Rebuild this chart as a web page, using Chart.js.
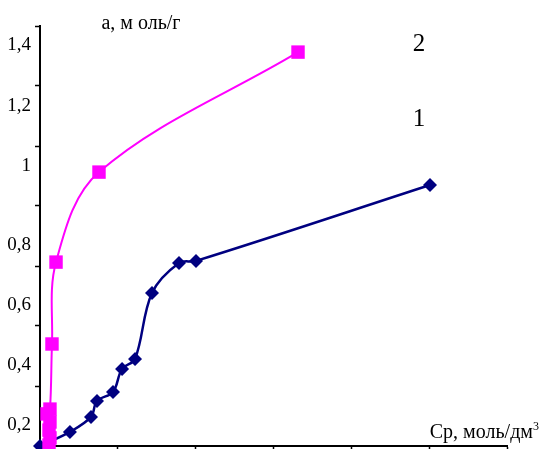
<!DOCTYPE html>
<html><head><meta charset="utf-8">
<script src="https://cdn.jsdelivr.net/npm/chart.js@4/dist/chart.umd.min.js"></script>
<style>html,body{margin:0;padding:0;background:#fff;}#wrap{width:539px;height:449px;position:relative}</style>
</head><body><div id="wrap"><canvas id="c" width="539" height="449"></canvas></div>
<script>
// ---- data ----
const series1X = [0, 0.385, 0.655, 0.732, 0.938, 1.054, 1.221, 1.439, 1.786, 2.004, 5.011];
const series1Y = [0.1, 0.147, 0.197, 0.25, 0.28, 0.357, 0.39, 0.61, 0.71, 0.717, 0.97];
const series2X = [0.116, 0.128, 0.116, 0.128, 0.09, 0.128, 0.154, 0.206, 0.758, 3.315];
const series2Y = [0.103, 0.127, 0.153, 0.18, 0.207, 0.223, 0.44, 0.713, 1.013, 1.413];
const seriesNames = ['1', '2'];
const xTickValues = [0, 1, 2, 3, 4, 5, 6];
const yTickMarkValues = [0.1, 0.3, 0.5, 0.7, 0.9, 1.1, 1.3, 1.5];
const yTickLabelValues = [0.17, 0.37, 0.57, 0.77, 1.033, 1.233, 1.437];
const yTickLabels = ['0,2', '0,4', '0,6', '0,8', '1', '1,2', '1,4'];
const yTitle = 'а, м оль/г';
const xTitle = 'Ср, моль/дм';
const xTitleSup = '3';
const seriesLabelPos = [[4.87, 1.187], [4.87, 1.44]];

const FONT = '"Liberation Serif", "Times New Roman", serif';

const toPts = (xs, ys) => xs.map((x, i) => ({x: x, y: ys[i]}));

const textPlugin = {
  id: 'texts',
  afterDraw(chart) {
    const ctx = chart.ctx, ca = chart.chartArea;
    const xs = chart.scales.x, ys = chart.scales.y;
    ctx.save();
    ctx.fillStyle = '#000';
    ctx.font = '20px ' + FONT;
    ctx.textAlign = 'center';
    ctx.textBaseline = 'middle';
    ctx.fillText(yTitle, ca.left + 101, ca.top - 2);
    // x title
    ctx.textAlign = 'right';
    ctx.textBaseline = 'alphabetic';
    ctx.fillText(xTitle, ca.right + 26, ca.bottom - 8);
    ctx.font = '12px ' + FONT;
    ctx.textAlign = 'left';
    ctx.fillText(xTitleSup, ca.right + 26, ca.bottom - 16);
    // series labels
    ctx.font = '25px ' + FONT;
    ctx.textAlign = 'center';
    ctx.textBaseline = 'middle';
    seriesNames.forEach((n, i) => {
      ctx.fillText(n, xs.getPixelForValue(seriesLabelPos[i][0]), ys.getPixelForValue(seriesLabelPos[i][1]));
    });
    ctx.restore();
  }
};

new Chart(document.getElementById('c'), {
  type: 'scatter',
  data: {
    datasets: [
      {
        label: seriesNames[0],
        data: toPts(series1X, series1Y),
        showLine: true,
        borderColor: '#000080',
        backgroundColor: '#000080',
        borderWidth: 2.5,
        pointStyle: 'rectRot',
        pointRadius: 7,
        pointBorderWidth: 0,
        tension: 0.35,
        clip: false,
        order: 1
      },
      {
        label: seriesNames[1],
        data: toPts(series2X, series2Y),
        showLine: true,
        borderColor: '#FF00FF',
        backgroundColor: '#FF00FF',
        borderWidth: 2,
        pointStyle: 'rect',
        pointRadius: 9.5,
        pointBorderWidth: 0,
        tension: 0.35,
        clip: false,
        order: 0
      }
    ]
  },
  plugins: [textPlugin],
  options: {
    responsive: false,
    animation: false,
    layout: {autoPadding: false, padding: {top: 26, right: 32, left: 0, bottom: 0}},
    plugins: {legend: {display: false}, tooltip: {enabled: false}},
    scales: {
      x: {
        type: 'linear',
        min: 0, max: 6,
        afterBuildTicks: s => { s.ticks = xTickValues.map(v => ({value: v})); },
        afterFit: s => { s.height = 3; s.paddingLeft = 0; s.paddingRight = 0; },
        ticks: {display: false},
        grid: {drawOnChartArea: false, drawTicks: true, tickLength: 5, tickWidth: 1.5, tickColor: '#000'},
        border: {display: true, color: '#000', width: 2}
      },
      y: {
        type: 'linear',
        min: 0.1, max: 1.5,
        afterBuildTicks: s => {
          const t = yTickMarkValues.map(v => ({value: v, txt: ''}))
            .concat(yTickLabelValues.map((v, i) => ({value: v, txt: yTickLabels[i]})));
          t.sort((a, b) => a.value - b.value);
          s.ticks = t;
        },
        afterFit: s => { s.width = 40; s.paddingTop = 0; s.paddingBottom = 0; },
        ticks: {
          autoSkip: false,
          padding: 4,
          color: '#000',
          font: {family: FONT, size: 19},
          callback: (v, i, t) => t[i].txt || ''
        },
        grid: {
          drawOnChartArea: false, drawTicks: true, tickLength: 5, tickWidth: 1.5,
          tickColor: c => (c.tick && c.tick.txt) ? 'rgba(0,0,0,0)' : '#000'
        },
        border: {display: true, color: '#000', width: 2}
      }
    }
  }
});
</script></body></html>
